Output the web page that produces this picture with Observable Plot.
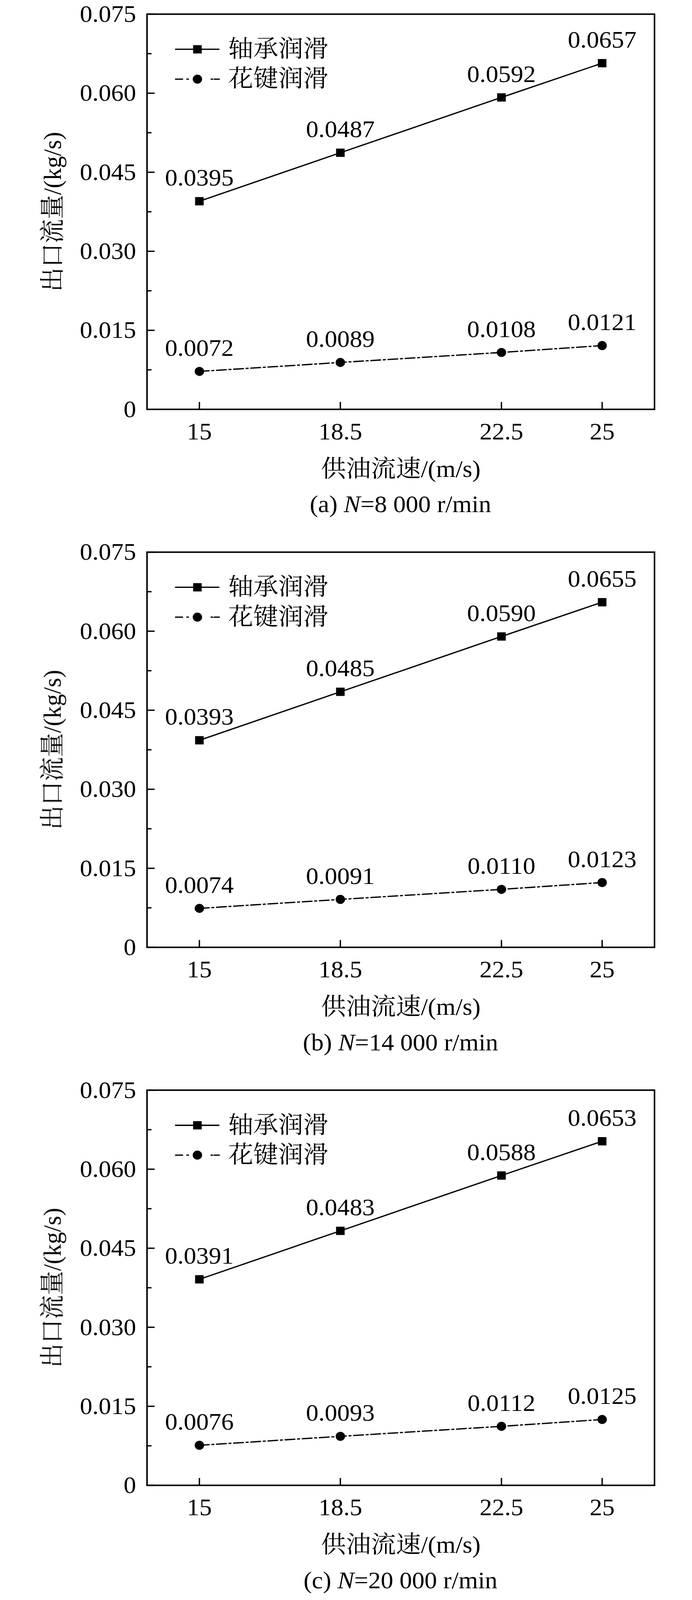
<!DOCTYPE html>
<html>
<head>
<meta charset="utf-8">
<script src="https://cdn.jsdelivr.net/npm/d3@7"></script>
<script src="https://cdn.jsdelivr.net/npm/@observablehq/plot@0.6"></script>
<style>
  html, body { margin: 0; padding: 0; background: #fff; overflow: hidden; }
  #root { width: 1772px; height: 4235px; transform-origin: 0 0; }
  .panel { width: 1772px; position: relative; }
  .panel svg { display: block; }
  .caption {
    box-sizing: border-box;
    width: 1772px;
    padding-left: 279px;
    text-align: center;
    font-family: "Liberation Serif", "Times New Roman", serif;
    font-size: 64px;
    line-height: 90px;
    color: #000;
  }
</style>
</head>
<body>
<div id="root"></div>
<script>
// ---------- data ----------
const speeds = [15, 18.5, 22.5, 25];                      // 供油流速 (m/s)
const seriesNames = ["轴承润滑", "花键润滑"];
const bearingA = [0.0395, 0.0487, 0.0592, 0.0657];
const splineA  = [0.0072, 0.0089, 0.0108, 0.0121];
const bearingB = [0.0393, 0.0485, 0.0590, 0.0655];
const splineB  = [0.0074, 0.0091, 0.0110, 0.0123];
const bearingC = [0.0391, 0.0483, 0.0588, 0.0653];
const splineC  = [0.0076, 0.0093, 0.0112, 0.0125];
const panelTags = ["(a)", "(b)", "(c)"];
const panelSpeeds = ["8 000", "14 000", "20 000"];
const yTicks = [0, 0.015, 0.030, 0.045, 0.060, 0.075];
const yMinorTicks = [0.0075, 0.0225, 0.0375, 0.0525, 0.0675];
const xTickLabels = ["15", "18.5", "22.5", "25"];
const xDomain = [13.7, 26.3];
const yDomain = [0, 0.075];
const yLabel = "出口流量/(kg/s)";
const xLabel = "供油流速/(m/s)";

// ---------- layout ----------
const PAGE_H = 4235;
const W = 1772, H = 1290;
const mL = 376, mR = 96.5, mT = 37, mB = 207;
const frameW = W - mL - mR, frameH = H - mT - mB;
const FONT = '"Liberation Serif", "Times New Roman", "Noto Serif CJK SC", "Noto Sans CJK SC", serif';
const FS = 64;
const DASHDOT = "25,7,5,7";
const hline = {draw(context, l) { context.moveTo(0, 0); context.lineTo(0, -l); }};

const panels = [
  [bearingA, splineA],
  [bearingB, splineB],
  [bearingC, splineC]
];

function makePanel(pair) {
  const bearing = speeds.map((x, i) => ({x, y: pair[0][i]}));
  const spline = speeds.map((x, i) => ({x, y: pair[1][i]}));
  return Plot.plot({
    width: W, height: H,
    marginLeft: mL, marginRight: mR, marginTop: mT, marginBottom: mB,
    x: {type: "linear", domain: xDomain, axis: null},
    y: {type: "linear", domain: yDomain, axis: null},
    style: {fontFamily: FONT, fontSize: FS + "px", color: "#000", background: "#fff", overflow: "visible"},
    marks: [
      // ticks (inward)
      Plot.ruleY(yTicks, {y: d => d, insetRight: frameW - 20, stroke: "#000", strokeWidth: 3.5}),
      Plot.ruleY(yMinorTicks, {y: d => d, insetRight: frameW - 12, stroke: "#000", strokeWidth: 3.5}),
      Plot.ruleX(speeds, {x: d => d, insetTop: frameH - 19, stroke: "#000", strokeWidth: 3.5}),
      // tick labels
      Plot.text(yTicks, {y: d => d, frameAnchor: "left", dx: -28, textAnchor: "end", lineAnchor: "middle",
        text: d => d === 0 ? "0" : d.toFixed(3), fontSize: FS, fill: "#000"}),
      Plot.text(speeds, {x: d => d, frameAnchor: "bottom", dy: 59, textAnchor: "middle", lineAnchor: "middle",
        text: (d, i) => xTickLabels[i], fontSize: FS, fill: "#000"}),
      // axis titles
      Plot.text([yLabel], {frameAnchor: "left", dx: -241, rotate: -90, textAnchor: "middle", lineAnchor: "middle", fontSize: FS, fill: "#000"}),
      Plot.text([xLabel], {frameAnchor: "bottom", dy: 158, textAnchor: "middle", lineAnchor: "middle", fontSize: FS, fill: "#000"}),
      // series
      Plot.line(bearing, {x: "x", y: "y", stroke: "#000", strokeWidth: 3.4}),
      Plot.line(spline, {x: "x", y: "y", stroke: "#000", strokeWidth: 3.4, strokeDasharray: DASHDOT}),
      Plot.dot(bearing, {x: "x", y: "y", symbol: "square", r: 12.4, fill: "#000", stroke: "none"}),
      Plot.dot(spline, {x: "x", y: "y", symbol: "circle", r: 12, fill: "#000", stroke: "none"}),
      // value labels
      Plot.text(bearing, {x: "x", y: "y", text: d => d.y.toFixed(4), dy: -41, lineAnchor: "bottom", fontSize: FS, fill: "#000"}),
      Plot.text(spline, {x: "x", y: "y", text: d => d.y.toFixed(4), dy: -41, lineAnchor: "bottom", fontSize: FS, fill: "#000"}),
      // legend
      Plot.vector([seriesNames[0]], {frameAnchor: "top-left", dx: 73, dy: 93, length: 111, rotate: 90, anchor: "start",
        shape: hline, stroke: "#000", strokeWidth: 3.4}),
      Plot.dot([seriesNames[0]], {frameAnchor: "top-left", dx: 129, dy: 93, symbol: "square", r: 12.4, fill: "#000", stroke: "none"}),
      Plot.text([seriesNames[0]], {frameAnchor: "top-left", dx: 208, dy: 93, textAnchor: "start", lineAnchor: "middle", fontSize: FS, fill: "#000"}),
      Plot.vector([seriesNames[1]], {frameAnchor: "top-left", dx: 73, dy: 172, length: 40, rotate: 90, anchor: "start",
        shape: hline, stroke: "#000", strokeWidth: 3.4, strokeDasharray: "18,11,4,20"}),
      Plot.vector([seriesNames[1]], {frameAnchor: "top-left", dx: 185, dy: 172, length: 40, rotate: 270, anchor: "start",
        shape: hline, stroke: "#000", strokeWidth: 3.4, strokeDasharray: "13,4,4,30"}),
      Plot.dot([seriesNames[1]], {frameAnchor: "top-left", dx: 129, dy: 172, symbol: "circle", r: 12, fill: "#000", stroke: "none"}),
      Plot.text([seriesNames[1]], {frameAnchor: "top-left", dx: 208, dy: 172, textAnchor: "start", lineAnchor: "middle", fontSize: FS, fill: "#000"}),
      // frame
      Plot.frame({stroke: "#000", strokeWidth: 4})
    ]
  });
}

const root = document.getElementById("root");
panels.forEach((pair, k) => {
  const div = document.createElement("div");
  div.className = "panel";
  div.style.height = (k < 2 ? 1424 : 1387) + "px";
  div.appendChild(makePanel(pair));
  const cap = document.createElement("div");
  cap.className = "caption";
  cap.innerHTML = `${panelTags[k]} <i>N</i>=${panelSpeeds[k]} r/min`;
  div.appendChild(cap);
  root.appendChild(div);
});

// The viewport may be shorter than the requested page height: fit the whole figure vertically.
const fitScale = Math.min(1, window.innerHeight / PAGE_H);
if (fitScale < 1) root.style.transform = `scale(1, ${fitScale})`;
</script>
</body>
</html>
